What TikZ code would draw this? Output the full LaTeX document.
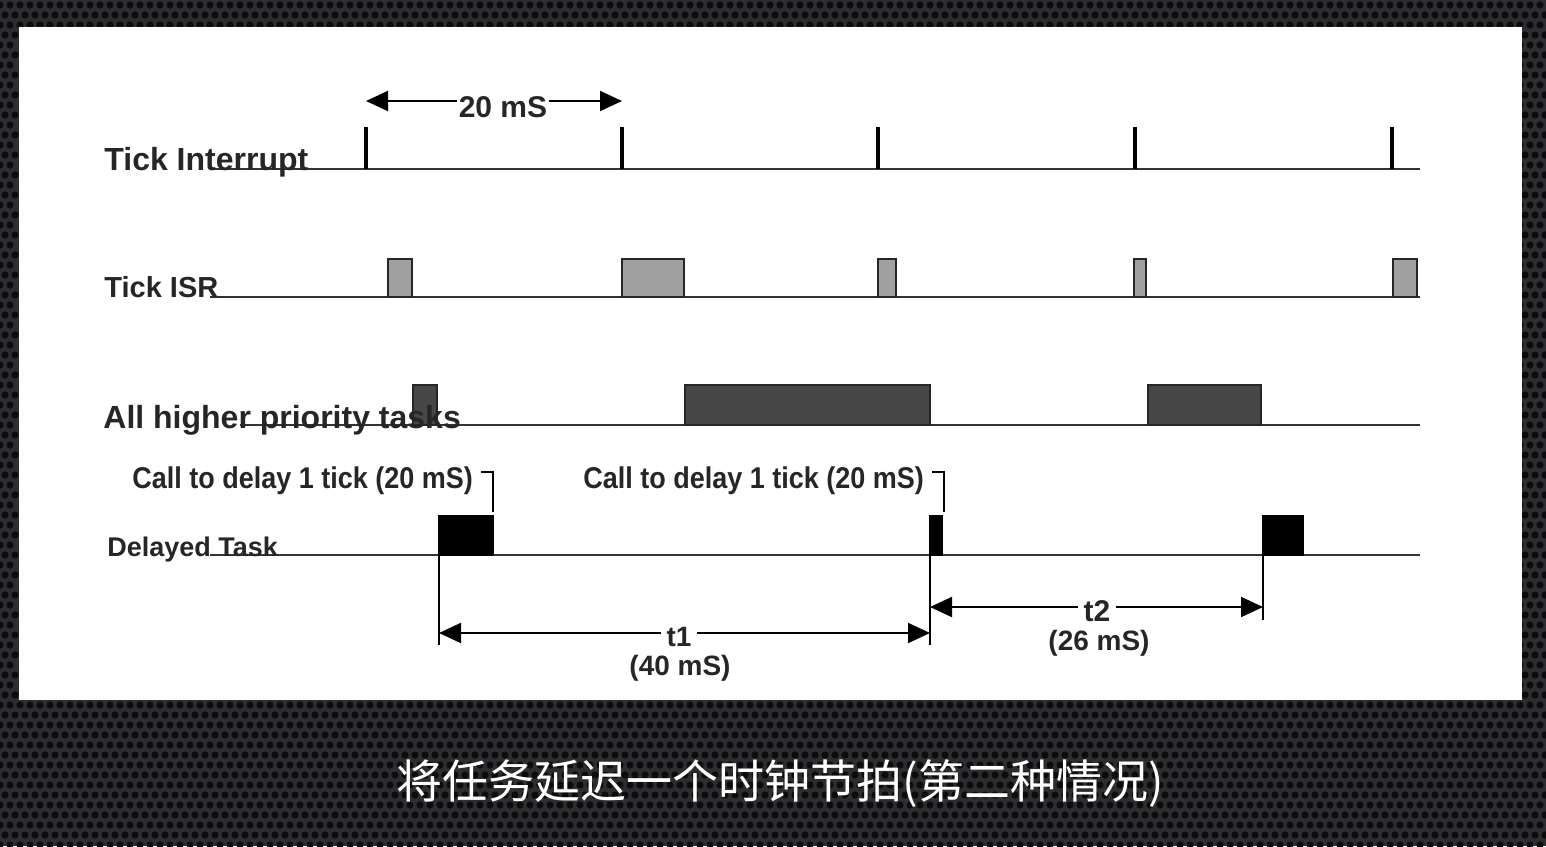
\documentclass[tikz,border=0pt]{standalone}
\usepackage{fontspec}
\setmainfont{Liberation Sans}
\newfontfamily\cjk{Noto Sans CJK SC}
\usetikzlibrary{arrows.meta}
\definecolor{bgdark}{HTML}{2E2E30}
\definecolor{hole}{HTML}{0C0C0E}
\definecolor{isrgray}{HTML}{A0A0A0}
\definecolor{taskgray}{HTML}{474747}
\definecolor{txt}{HTML}{262626}
\definecolor{linegray}{HTML}{333333}
\begin{document}
\begin{tikzpicture}[x=0.5pt,y=-0.5pt,
  lbl/.style={font=\fontsize{14}{16}\selectfont\bfseries, text=txt, inner sep=0pt},
  calllbl/.style={font=\fontsize{15}{16}\selectfont\bfseries, text=txt, inner sep=0pt, xscale=0.9},
  biglbl/.style={font=\fontsize{16}{18}\selectfont\bfseries, text=txt, inner sep=0pt},
  baseln/.style={line width=1.3pt, draw=linegray},
  tickln/.style={line width=2pt, draw=black},
  isrbox/.style={fill=isrgray, draw=black!85, line width=1pt},
  hpbox/.style={fill=taskgray, draw=black!85, line width=1pt},
  dtbox/.style={fill=black, draw=black, line width=1pt},
  dimln/.style={line width=1pt, {Triangle[length=11pt,width=10pt]}-{Triangle[length=11pt,width=10pt]}},
  extln/.style={line width=0.9pt, draw=black},
  captext/.style={font=\cjk\fontsize{23}{26}\selectfont, text=white, inner sep=0pt}
]
\useasboundingbox (0,0) rectangle (1546,846);
% background
\fill[bgdark] (0,0) rectangle (1546,846);
\foreach \r in {0,...,84}{
  \pgfmathsetmacro{\yy}{5+\r*10}
  \pgfmathsetmacro{\off}{mod(\r,2)*5}
  \ifdim \yy pt<30pt
    \foreach \c in {0,...,155}{ \fill[hole] (\off+\c*10,\yy) circle (3.6); }
  \else
    \ifdim \yy pt>697pt
      \foreach \c in {0,...,155}{ \fill[hole] (\off+\c*10,\yy) circle (3.6); }
    \else
      \foreach \c in {0,1,152,153,154,155}{ \fill[hole] (\off+\c*10,\yy) circle (3.6); }
    \fi
  \fi
}
% white panel
\fill[white] (19,27) rectangle (1522,700);

% baselines
\draw[baseln] (210,169) -- (1420,169);
\draw[baseln] (210,297) -- (1420,297);
\draw[baseln] (240,425) -- (1420,425);
\draw[baseln] (210,555) -- (1420,555);

% tick interrupts
\foreach \x in {366,622,878,1135,1392}{ \draw[tickln] (\x,127) -- (\x,169); }

% Tick ISR boxes
\draw[isrbox] (388,259) rectangle (412,297);
\draw[isrbox] (622,259) rectangle (684,297);
\draw[isrbox] (878,259) rectangle (896,297);
\draw[isrbox] (1134,259) rectangle (1146,297);
\draw[isrbox] (1393,259) rectangle (1417,297);

% higher priority task boxes
\draw[hpbox] (413,385) rectangle (437,425);
\draw[hpbox] (685,385) rectangle (930,425);
\draw[hpbox] (1148,385) rectangle (1261,425);

% delayed task boxes
\draw[dtbox] (439,516) rectangle (493,555);
\draw[dtbox] (930,516) rectangle (942,555);
\draw[dtbox] (1263,516) rectangle (1303,555);

% row labels
\node[biglbl, anchor=base west] (lti) at (104,170) {Tick Interrupt};
\node[lbl, font=\fontsize{14.5}{16}\selectfont\bfseries, anchor=base west] (lisr) at (104,297) {Tick ISR};
\node[biglbl, anchor=base west] (lhp) at (103,428) {All higher priority tasks};
\node[lbl, font=\fontsize{13.5}{16}\selectfont\bfseries, anchor=base west] (ldt) at (107,556) {Delayed Task};

% call labels with brackets
\node[calllbl, anchor=base west] (call1) at (132,488) {Call to delay 1 tick (20 mS)};
\node[calllbl, anchor=base west] (call2) at (583,488) {Call to delay 1 tick (20 mS)};
\coordinate (c1a) at (481,472);
\coordinate (c1b) at (493,472);
\coordinate (c1c) at (493,512);
\coordinate (c2a) at (932,472);
\coordinate (c2b) at (944,472);
\coordinate (c2c) at (944,512);
\draw[extln] (c1a) -- (c1b) -- (c1c);
\draw[extln] (c2a) -- (c2b) -- (c2c);

% 20 mS dimension
\coordinate (p20a) at (366,101);
\coordinate (p20b) at (622,101);
\draw[dimln] (p20a) -- (p20b);
\node[lbl, font=\fontsize{15}{16}\selectfont\bfseries, fill=white, inner xsep=1pt, inner ysep=0pt, anchor=base] (l20) at (503,117) {20 m\phantom{S}};
\node[lbl, font=\fontsize{15}{16}\selectfont\bfseries, anchor=base] (l20b) at (503,117) {\phantom{20 m}S};

% extension lines
\coordinate (e1t) at (439,555);
\coordinate (e1b) at (439,645);
\coordinate (e2t) at (930,555);
\coordinate (e2b) at (930,645);
\coordinate (e3t) at (1263,555);
\coordinate (e3b) at (1263,620);
\draw[extln] (e1t) -- (e1b);
\draw[extln] (e2t) -- (e2b);
\draw[extln] (e3t) -- (e3b);

% t1
\coordinate (t1a) at (439,633);
\coordinate (t1b) at (930,633);
\draw[dimln] (t1a) -- (t1b);
\node[lbl, fill=white, inner xsep=3pt, anchor=base] (t1) at (679,646) {t1};
\node[lbl, anchor=base] (t1v) at (680,675) {(40 mS)};

% t2
\coordinate (t2a) at (930,607);
\coordinate (t2b) at (1263,607);
\draw[dimln] (t2a) -- (t2b);
\node[lbl, font=\fontsize{15}{16}\selectfont\bfseries, fill=white, inner xsep=3pt, anchor=base] (t2) at (1097,621) {t2};
\node[lbl, anchor=base] (t2v) at (1099,650) {(26 mS)};

% caption
\node[captext] (caption) at (780,784) {将任务延迟一个时钟节拍(第二种情况)};
\end{tikzpicture}
\end{document}
